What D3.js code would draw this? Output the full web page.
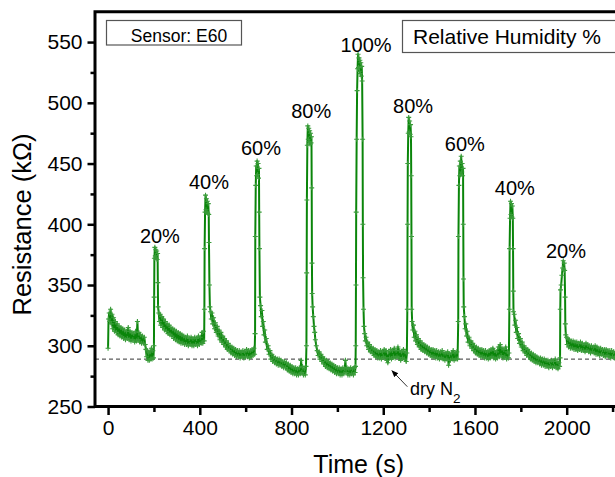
<!DOCTYPE html>
<html>
<head>
<meta charset="utf-8">
<script src="https://cdn.jsdelivr.net/npm/d3@7"></script>
<style>
  body { margin: 0; background: #fff; }
  svg { display: block; font-family: "Liberation Sans", Arial, sans-serif; }
</style>
</head>
<body>
<div id="chart"></div>
<script>
// resistance trace, [time (s), resistance (kOhm)]
const signal = [
  [0,298],[2,322],[5,327],[8,320],[11,330],[14,318],[17,326],[20,314],[24,323],[28,312],[32,320],[36,311],[40,318],[44,309],[48,316],[52,308],[56,315],[60,307],[64,314],[68,306],[72,313],[76,305],[80,312],[84,306],[88,315],[92,305],[96,312],[100,304],[104,311],[108,305],[112,310],[116,303],[120,312],[124,304],[128,320],[131,305],[134,311],[138,303],[142,309],[146,302],[150,308],[154,302],[158,307],[162,301],[165,297],[168,291],[171,296],[174,288],[177,294],[180,288],[183,295],[186,289],[189,298],[192,289],[195,296],[198,290],
  [200,300],[201,340],[202,372],[204,381],[206,374],[208,379],[210,372],[212,378],[214,371],[216,376],[217,352],[218,332],
  [221,327],[224,320],[227,326],[230,317],[234,324],[238,315],[242,322],[246,313],[250,320],[254,312],[258,318],[262,310],[266,317],[270,309],[274,315],[278,308],[282,314],[286,306],[290,313],[294,305],[298,312],[302,304],[306,311],[310,303],[314,310],[318,302],[322,309],[326,302],[330,308],[334,301],[338,307],[342,301],[346,308],[350,300],[354,306],[358,301],[362,307],[366,300],[370,306],[374,300],[378,307],[382,301],[386,306],[390,300],[394,308],[398,301],[402,307],[406,302],[410,311],[413,302],[416,312],[419,304],
  [420,330],[421,380],[423,410],[425,424],[427,412],[429,421],[431,410],[433,419],[435,409],[437,417],[439,408],[440,385],[442,350],[444,332],
  [447,328],[450,322],[453,327],[456,318],[460,323],[464,314],[468,319],[472,311],[476,316],[480,308],[484,313],[488,305],[492,311],[496,303],[500,308],[504,301],[508,306],[512,299],[516,304],[520,297],[524,302],[528,296],[532,300],[536,294],[540,299],[544,293],[548,298],[552,292],[556,297],[560,291],[564,296],[568,291],[572,296],[576,290],[580,295],[584,291],[588,296],[592,290],[596,295],[600,291],[604,297],[608,291],[612,296],[616,290],[620,296],[624,291],[628,297],[632,292],[636,298],[639,293],
  [641,310],[642,390],[644,432],[646,448],[648,440],[650,452],[652,441],[654,450],[656,438],[658,446],[659,410],[660,380],[662,340],
  [665,333],[668,324],[671,329],[674,316],[677,320],[680,309],[683,313],[686,303],[690,306],[694,297],[698,300],[702,293],[706,296],[710,289],[714,293],[718,287],[722,291],[726,286],[730,290],[734,285],[738,289],[742,284],[746,289],[750,284],[754,288],[758,283],[762,287],[766,282],[770,287],[774,282],[778,286],[782,280],[786,285],[790,279],[794,284],[798,278],[802,283],[806,277],[810,282],[814,277],[818,282],[822,276],[826,281],[830,276],[834,282],[838,277],[842,288],[845,278],[848,283],[852,276],[856,281],[860,276],[863,283],
  [865,300],[866,360],[867,420],[869,465],[871,481],[873,470],[875,479],[877,468],[879,477],[881,466],[883,475],[885,467],[887,472],[888,430],[889,368],[890,343],
  [892,332],[895,324],[898,316],[901,311],[904,305],[908,300],[912,296],[916,292],[920,295],[924,289],[928,293],[932,287],[936,291],[940,285],[944,289],[948,283],[952,288],[956,282],[960,287],[964,281],[968,286],[972,280],[976,285],[980,279],[984,284],[988,278],[992,283],[996,277],[1000,282],[1004,277],[1008,282],[1012,276],[1016,281],[1020,276],[1024,282],[1028,277],[1032,281],[1035,288],[1038,278],[1042,282],[1046,276],[1050,281],[1054,276],[1058,282],[1062,277],[1066,281],[1070,276],[1074,282],[1077,278],[1079,283],
  [1080,300],[1081,350],[1082,410],[1084,470],[1086,510],[1088,528],[1090,540],[1092,529],[1094,537],[1096,526],[1098,535],[1100,524],[1102,533],[1104,522],[1106,530],[1108,518],[1110,470],[1111,400],[1112,356],
  [1114,330],[1116,316],[1119,310],[1122,304],[1125,307],[1128,300],[1132,303],[1136,297],[1140,301],[1144,295],[1148,299],[1152,294],[1156,298],[1160,292],[1164,297],[1168,291],[1172,296],[1176,290],[1180,295],[1184,290],[1188,296],[1192,289],[1196,295],[1200,291],[1204,297],[1208,290],[1212,296],[1216,288],[1220,286],[1224,295],[1228,290],[1232,297],[1236,289],[1240,296],[1244,291],[1248,298],[1252,290],[1256,296],[1260,291],[1264,299],[1268,290],[1272,296],[1276,288],[1280,295],[1284,290],[1288,297],[1292,289],[1296,295],[1300,287],[1303,294],
  [1305,330],[1306,400],[1307,450],[1309,475],[1311,488],[1313,476],[1315,485],[1317,474],[1319,482],[1321,472],[1322,440],[1323,390],[1324,330],
  [1326,320],[1329,313],[1332,317],[1335,307],[1338,312],[1341,304],[1345,309],[1349,301],[1353,306],[1357,299],[1361,304],[1365,297],[1369,302],[1373,296],[1377,301],[1381,295],[1385,300],[1389,294],[1393,299],[1397,293],[1401,298],[1405,292],[1409,297],[1413,291],[1417,297],[1421,291],[1425,296],[1429,290],[1433,296],[1437,290],[1441,295],[1445,289],[1449,295],[1453,290],[1457,296],[1461,289],[1465,294],[1469,288],[1473,294],[1477,289],[1481,295],[1485,284],[1489,293],[1493,288],[1497,294],[1501,289],[1505,296],[1509,288],[1513,294],[1517,289],[1521,295],[1524,289],
  [1527,320],[1528,390],[1530,432],[1532,448],[1534,440],[1536,452],[1538,441],[1540,456],[1542,443],[1544,450],[1546,440],[1548,446],[1549,400],[1550,355],[1551,332],
  [1554,324],[1557,314],[1560,318],[1563,308],[1566,312],[1570,303],[1574,307],[1578,300],[1582,304],[1586,298],[1590,302],[1594,296],[1598,300],[1602,294],[1606,299],[1610,293],[1614,298],[1618,292],[1622,297],[1626,291],[1630,297],[1634,291],[1638,296],[1642,290],[1646,296],[1650,290],[1654,295],[1658,289],[1662,296],[1666,290],[1670,297],[1674,291],[1678,298],[1682,290],[1686,296],[1690,289],[1694,295],[1698,290],[1702,299],[1706,291],[1710,301],[1714,292],[1718,298],[1722,290],[1726,297],[1730,291],[1734,299],[1738,289],[1742,295],[1746,290],[1748,294],
  [1750,330],[1751,380],[1753,405],[1755,419],[1757,408],[1759,417],[1761,406],[1763,415],[1765,405],[1766,380],[1767,345],[1768,328],
  [1771,326],[1774,317],[1777,321],[1780,311],[1783,315],[1786,306],[1790,310],[1794,302],[1798,306],[1802,299],[1806,303],[1810,296],[1814,300],[1818,294],[1822,298],[1826,292],[1830,297],[1834,291],[1838,295],[1842,289],[1846,294],[1850,288],[1854,293],[1858,287],[1862,292],[1866,286],[1870,291],[1874,286],[1878,290],[1882,285],[1886,290],[1890,284],[1894,289],[1898,284],[1902,289],[1906,283],[1910,288],[1914,283],[1918,288],[1922,282],[1926,287],[1930,283],[1934,288],[1938,282],[1942,287],[1946,283],[1950,289],[1954,282],[1958,287],[1962,281],[1966,286],[1969,283],
  [1971,290],[1972,330],[1973,346],[1976,350],[1979,358],[1982,364],[1985,370],[1987,363],[1989,368],[1991,362],[1993,340],[1994,318],[1996,309],
  [1999,307],[2002,301],[2005,306],[2008,299],[2012,305],[2016,298],[2020,304],[2024,298],[2028,304],[2032,297],[2036,303],[2040,297],[2044,303],[2048,296],[2052,302],[2056,297],[2060,303],[2064,296],[2068,302],[2072,296],[2076,301],[2080,295],[2084,302],[2088,296],[2092,301],[2096,295],[2100,300],[2104,294],[2108,300],[2112,295],[2116,299],[2120,294],[2124,300],[2128,293],[2132,299],[2136,293],[2140,298],[2144,292],[2148,298],[2152,293],[2156,297],[2160,292],[2164,297],[2168,291],[2172,297],[2176,292],[2180,296],[2184,291],[2188,296],[2192,290],[2196,296],[2200,291],[2204,295],[2208,290],[2212,295],[2216,290],[2220,294],[2224,290],[2228,294],[2232,290]
];

const xMajorTicks = [0, 400, 800, 1200, 1600, 2000];
const xMinorTicks = [200, 600, 1000, 1400, 1800, 2200];
const yMajorTicks = [250, 300, 350, 400, 450, 500, 550];
const yMinorTicks = [275, 325, 375, 425, 475, 525];

// humidity step labels, anchored in data space (time, kOhm)
const humidityLabels = ['20%', '40%', '60%', '80%', '100%', '80%', '60%', '40%', '20%'];
const labelTimes = [226, 440, 667, 886, 1125, 1330, 1556, 1774, 1997];
const labelLevels = [385, 429, 457, 487.5, 542, 491.5, 460, 424, 372];

const dryN2Level = 289;
const dryN2Text = [1317, 259.5];
const dryN2Arrow = [[1305, 266.3], [1238, 279.5]];

const Painter = {};

Painter.option = {
  width: 615,
  height: 477,
  plot: {left: 95, top: 11.7, right: 635.5, bottom: 406.5},
  color: '#0a850a'
};

Painter.draw = (container) => {
  const o = Painter.option;
  const p = o.plot;

  const svg = d3.select(container).append('svg')
      .attr('width', o.width)
      .attr('height', o.height);

  const x = d3.scaleLinear().domain([-57, 2300]).range([p.left, p.right]);
  const y = d3.scaleLinear().domain([250, 575]).range([p.bottom, p.top]);

  svg.append('clipPath').attr('id', 'clip')
      .append('rect')
      .attr('x', p.left).attr('y', p.top)
      .attr('width', p.right - p.left).attr('height', p.bottom - p.top);

  // dry N2 reference line
  svg.append('line')
      .attr('x1', p.left).attr('x2', o.width)
      .attr('y1', y(dryN2Level)).attr('y2', y(dryN2Level))
      .attr('stroke', '#333')
      .attr('stroke-width', 1)
      .attr('stroke-dasharray', '4,3');

  const data = svg.append('g').attr('clip-path', 'url(#clip)');

  const line = d3.line()
      .x((d) => x(d[0]))
      .y((d) => y(d[1]));

  data.append('path')
      .datum(signal)
      .attr('fill', 'none')
      .attr('stroke', o.color)
      .attr('stroke-width', 2)
      .attr('stroke-linejoin', 'round')
      .attr('d', line);

  // small cross markers on every sample
  data.selectAll('.pt')
      .data(signal)
      .enter()
      .append('path')
      .attr('class', 'pt')
      .attr('d', (d) => `M${x(d[0]) - 2.5},${y(d[1])}h5M${x(d[0])},${y(d[1]) - 2.5}v5`)
      .attr('stroke', '#3a9c3a')
      .attr('stroke-width', 1.1);

  // axes
  const styleAxis = (g) => {
    g.select('.domain').remove();
    g.selectAll('line').attr('stroke', '#000').attr('stroke-width', 2.5);
    g.selectAll('text').attr('font-size', 21).attr('fill', '#000')
        .attr('font-family', '"Liberation Sans", Arial, sans-serif');
  };

  svg.append('g')
      .attr('transform', `translate(0,${p.bottom})`)
      .call(d3.axisBottom(x).tickValues(xMinorTicks).tickSize(5.5).tickFormat(''))
      .call(styleAxis);
  svg.append('g')
      .attr('transform', `translate(0,${p.bottom})`)
      .call(d3.axisBottom(x).tickValues(xMajorTicks).tickSize(8.5).tickPadding(5)
          .tickFormat(d3.format('d')))
      .call(styleAxis);

  svg.append('g')
      .attr('transform', `translate(${p.left},0)`)
      .call(d3.axisLeft(y).tickValues(yMinorTicks).tickSize(4.5).tickFormat(''))
      .call(styleAxis);
  svg.append('g')
      .attr('transform', `translate(${p.left},0)`)
      .call(d3.axisLeft(y).tickValues(yMajorTicks).tickSize(7.5).tickPadding(5)
          .tickFormat(d3.format('d')))
      .call(styleAxis);

  // frame (right side runs off the page)
  svg.append('path')
      .attr('d', `M${p.right + 10},${p.top}H${p.left}V${p.bottom}H${p.right + 10}`)
      .attr('fill', 'none')
      .attr('stroke', '#000')
      .attr('stroke-width', 3)
      .attr('stroke-linecap', 'square');

  // axis titles
  svg.append('text')
      .attr('x', 358.7).attr('y', 473)
      .attr('text-anchor', 'middle')
      .attr('font-size', 25)
      .text('Time (s)');

  svg.append('text')
      .attr('transform', 'translate(30.5,224.5) rotate(-90)')
      .attr('text-anchor', 'middle')
      .attr('font-size', 25.5)
      .text('Resistance (k\u03A9)');

  // humidity labels
  svg.selectAll('.hum')
      .data(humidityLabels)
      .enter()
      .append('text')
      .attr('class', 'hum')
      .attr('x', (d, i) => x(labelTimes[i]))
      .attr('y', (d, i) => y(labelLevels[i]))
      .attr('text-anchor', 'middle')
      .attr('font-size', 20)
      .text((d) => d);

  // boxes
  svg.append('rect')
      .attr('x', 106.5).attr('y', 20.5)
      .attr('width', 135).attr('height', 24.5)
      .attr('fill', '#fff')
      .attr('stroke', '#555')
      .attr('stroke-width', 1.2);
  svg.append('text')
      .attr('x', 179).attr('y', 41.5)
      .attr('text-anchor', 'middle')
      .attr('font-size', 17.5)
      .text('Sensor: E60');

  svg.append('rect')
      .attr('x', 402.5).attr('y', 20.5)
      .attr('width', 240).attr('height', 32)
      .attr('fill', '#fff')
      .attr('stroke', '#555')
      .attr('stroke-width', 1.2);
  svg.append('text')
      .attr('x', 413).attr('y', 43.5)
      .attr('font-size', 21)
      .text('Relative Humidity %');

  // dry N2 arrow + label
  svg.append('defs').append('marker')
      .attr('id', 'arrow')
      .attr('viewBox', '0 0 10 10')
      .attr('refX', 9).attr('refY', 5)
      .attr('markerWidth', 7).attr('markerHeight', 7)
      .attr('markerUnits', 'userSpaceOnUse')
      .attr('orient', 'auto')
      .append('path')
      .attr('d', 'M0,1L10,5L0,9Z')
      .attr('fill', '#000');

  svg.append('line')
      .attr('x1', x(dryN2Arrow[0][0])).attr('y1', y(dryN2Arrow[0][1]))
      .attr('x2', x(dryN2Arrow[1][0])).attr('y2', y(dryN2Arrow[1][1]))
      .attr('stroke', '#000')
      .attr('stroke-width', 0.8)
      .attr('marker-end', 'url(#arrow)');

  const dn = svg.append('text')
      .attr('x', x(dryN2Text[0])).attr('y', y(dryN2Text[1]))
      .attr('font-size', 18);
  dn.append('tspan').text('dry N');
  dn.append('tspan').attr('dy', 8).attr('font-size', 13.5).text('2');
};

Painter.draw(document.getElementById('chart'));
</script>
</body>
</html>
